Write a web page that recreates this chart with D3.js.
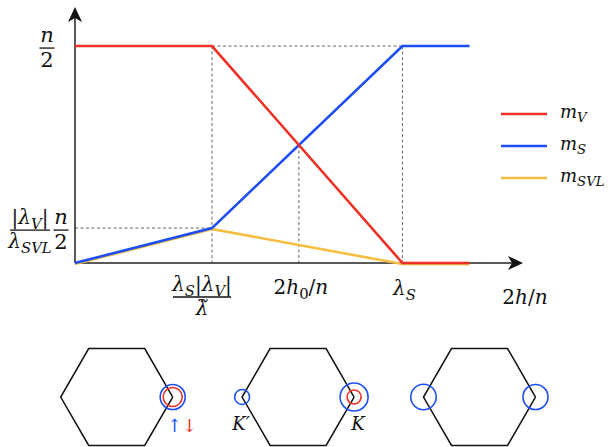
<!DOCTYPE html>
<html><head><meta charset="utf-8">
<script src="https://cdn.jsdelivr.net/npm/d3@7"></script>
<style>body{margin:0;background:#fff}svg{display:block}text{font-family:"DejaVu Serif",serif}</style>
</head><body>
<script>
// ---- data ----
const hVals = [0, 1, 2.39, 2.88];          // 2h/n breakpoints (kink, lambda_S, end)
const mV    = [1, 1, 0, 0];                // in units of n/2
const mS    = [0, 0.161, 1, 1];
const mSVL  = [0, 0.161, 0, 0];
const seriesNames = ["V", "S", "SVL"];
const seriesColors = ["#ee3124", "#1d4ef5", "#f6bd41"];
const xDomain = [0, 3.27], yDomain = [0, 1.18];
// hexagon panels: circles at vertex (side -1 left, +1 right) with radii
const panels = [
  {circles: [{side: 1, r: 12.5, c: 1}, {side: 1, r: 9.5, c: 0}]},
  {circles: [{side: -1, r: 7.5, c: 1}, {side: 1, r: 14, c: 1}, {side: 1, r: 7, c: 0}]},
  {circles: [{side: -1, r: 12.7, c: 1}, {side: 1, r: 12.5, c: 1}]}
];

const W = 608, H = 447;
const svg = d3.select("body").append("svg").attr("width", W).attr("height", H);
const x = d3.scaleLinear().domain(xDomain).range([75, 523]);
const y = d3.scaleLinear().domain(yDomain).range([263, 7]);

// dashed guides
const dash = svg.append("g").attr("stroke", "#555").attr("stroke-width", 0.9).attr("stroke-dasharray", "3,2.5").attr("fill","none");
// crossing of mV and mS between index1 and 2
const t = (mS[1] - mV[1]) / ((mV[2]-mV[1]) - (mS[2]-mS[1]));
const hc = hVals[1] + t*(hVals[2]-hVals[1]);
const mc = mV[1] + t*(mV[2]-mV[1]);
dash.append("line").attr("x1", x(hVals[1])).attr("x2", x(hVals[2])).attr("y1", y(1)).attr("y2", y(1));
dash.append("line").attr("x1", x(0)).attr("x2", x(hVals[1])).attr("y1", y(mS[1])).attr("y2", y(mS[1]));
dash.append("line").attr("x1", x(hVals[1])).attr("x2", x(hVals[1])).attr("y1", y(1)).attr("y2", y(0));
dash.append("line").attr("x1", x(hVals[2])).attr("x2", x(hVals[2])).attr("y1", y(1)).attr("y2", y(0));
dash.append("line").attr("x1", x(hc)).attr("x2", x(hc)).attr("y1", y(mc)).attr("y2", y(0));

// axes
const ax = svg.append("g");
ax.append("line").attr("x1", x(0)).attr("x2", x(xDomain[1]) - 8).attr("y1", y(0)).attr("y2", y(0)).attr("stroke", "#222").attr("stroke-width", 1.5);
ax.append("line").attr("x1", x(0)).attr("x2", x(0)).attr("y1", y(0)).attr("y2", y(yDomain[1]) + 8).attr("stroke", "#222").attr("stroke-width", 1.5);
const tx = x(xDomain[1]), ty = y(0);
ax.append("path").attr("d", `M${tx},${ty} L${tx-15},${ty-7} L${tx-11},${ty} L${tx-15},${ty+7} Z`).attr("fill", "#111");
const ux = x(0), uy = y(yDomain[1]);
ax.append("path").attr("d", `M${ux},${uy} L${ux-7},${uy+15} L${ux},${uy+11} L${ux+7},${uy+15} Z`).attr("fill", "#111");

// series lines
const line = d3.line().x((d, i) => x(hVals[i])).y(d => y(d));
const data = [mV, mS, mSVL];
[2, 1, 0].forEach(k => {
  svg.append("path").datum(data[k]).attr("d", line).attr("fill", "none")
    .attr("stroke", seriesColors[k]).attr("stroke-width", 2.6)
    .attr("transform", k === 2 ? "translate(0,1)" : null);
});

// text helpers
function addText(g, parts, xx, yy, size, anchor) {
  const te = g.append("text").attr("x", xx).attr("y", yy).attr("font-size", size).attr("text-anchor", anchor || "middle").attr("fill", "#111");
  parts.forEach(p => {
    const s = te.append("tspan").text(p.t);
    if (p.i) s.attr("font-style", "italic");
    if (p.sub) s.attr("font-size", size * 0.74).attr("dy", p.dy || size * 0.25);
    if (p.up) s.attr("dy", -(p.up));
    if (p.fill) s.attr("fill", p.fill);
  });
  return te;
}
function frac(g, num, den, cx, barY, size, barW) {
  addText(g, num, cx, barY - 6, size);
  addText(g, den, cx, barY + size * 0.92, size);
  g.append("line").attr("x1", cx - barW/2).attr("x2", cx + barW/2).attr("y1", barY).attr("y2", barY).attr("stroke", "#111").attr("stroke-width", 1.3);
}
const lab = svg.append("g");
// y labels
frac(lab, [{t: "n", i: 1}], [{t: "2"}], 47, y(1) + 2, 21, 15);
frac(lab, [{t: "|"}, {t: "λ", i: 1}, {t: "V", i: 1, sub: 1}, {t: "|", up: 5}], [{t: "λ", i: 1}, {t: "SVL", i: 1, sub: 1}], 30, y(mS[1]) + 2, 20, 40);
frac(lab, [{t: "n", i: 1}], [{t: "2"}], 61, y(mS[1]) + 2, 21, 15);
// x labels
frac(lab, [{t: "λ", i: 1}, {t: "S", i: 1, sub: 1}, {t: "|", up: 5}, {t: "λ", i: 1}, {t: "V", i: 1, sub: 1}, {t: "|", up: 5}], [{t: "λ̃", i: 1}], x(hVals[1]) - 10, 297, 20, 58);
addText(lab, [{t: "2"}, {t: "h", i: 1}, {t: "0", sub: 1}, {t: "/", up: 5}, {t: "n", i: 1}], x(hc) + 2, 294, 20);
addText(lab, [{t: "λ", i: 1}, {t: "S", i: 1, sub: 1}], x(hVals[2]) + 2, 295, 20);
addText(lab, [{t: "2"}, {t: "h", i: 1}, {t: "/"}, {t: "n", i: 1}], x(xDomain[1]) + 2, 304, 20);

// legend
const leg = svg.append("g");
seriesNames.forEach((nm, i) => {
  const ly = 114 + i * 32;
  leg.append("line").attr("x1", 501).attr("x2", 547).attr("y1", ly).attr("y2", ly).attr("stroke", seriesColors[i]).attr("stroke-width", 2.6);
  addText(leg, [{t: "m", i: 1}, {t: nm, i: 1, sub: 1, dy: 4}], 560, ly + 4, 18, "start");
});

// hexagon panels
const hexCx = d3.scalePoint().domain(d3.range(panels.length)).range([116.7, 479.5]);
const R = 56, hcY = 397;
panels.forEach((p, i) => {
  const cx = hexCx(i);
  const pts = d3.range(7).map(k => [cx + R * Math.cos(k * Math.PI / 3), hcY + R * Math.sin(k * Math.PI / 3)]);
  svg.append("path").attr("d", d3.line()(pts)).attr("fill", "none").attr("stroke", "#111").attr("stroke-width", 1.5);
  p.circles.forEach(c => {
    svg.append("circle").attr("cx", cx + c.side * R).attr("cy", hcY).attr("r", c.r)
      .attr("fill", "none").attr("stroke", seriesColors[c.c]).attr("stroke-width", 1.6);
  });
});
// panel labels
addText(svg, [{t: "↑", fill: seriesColors[1]}, {t: "↓", fill: seriesColors[0]}], 182, 432, 18);
addText(svg, [{t: "K′", i: 1}], hexCx(1) - R - 1, 430, 18);
addText(svg, [{t: "K", i: 1}], hexCx(1) + R + 4, 430, 18);
</script>
</body></html>
